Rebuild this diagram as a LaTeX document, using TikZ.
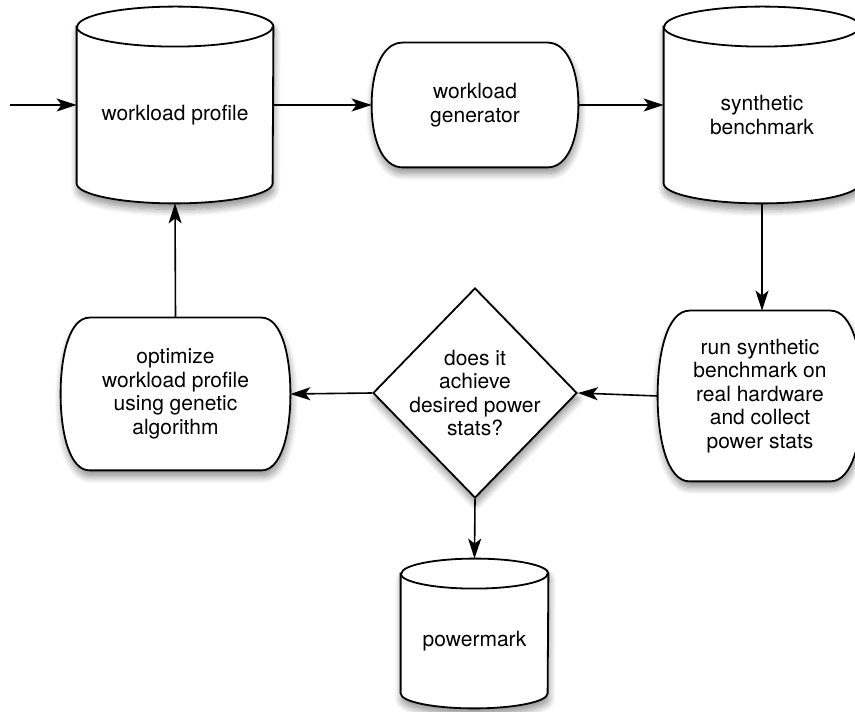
\documentclass[tikz,border=0pt]{standalone}
\usepackage{fontspec}
\setmainfont{TeX Gyre Heros}
\usetikzlibrary{shapes.geometric, arrows.meta, positioning, calc, shadows.blur, backgrounds}

\begin{document}
\begin{tikzpicture}[
    x=1pt, y=1pt,
    every node/.style={font=\fontsize{10.5pt}{11.8pt}\selectfont, align=center, inner sep=0pt},
    store/.style={rectangle, minimum width=98pt, minimum height=88pt},
    proc/.style={rectangle},
    shade/.style={blur shadow={shadow xshift=0.5pt, shadow yshift=-3pt, shadow blur radius=3.5pt, shadow blur steps=10, shadow opacity=45}},
    decision/.style={diamond, draw, fill=white, line width=0.9pt, minimum width=102pt, minimum height=105pt, shade},
    outline/.style={draw, fill=white, line width=0.9pt, shade},
    arrow/.style={-{Stealth[length=10pt, width=6.5pt, inset=2.5pt]}, line width=0.8pt}
]
    \useasboundingbox (0,0) rectangle (427.5,355.5);

    \node[store] (wp) at (87.5,298) {workload profile};
    \node[proc, minimum width=103pt, minimum height=62pt] (gen) at (237.5,303) {workload\\generator};
    \node[store] (sb) at (381,298) {synthetic\\benchmark};
    \node[proc, minimum width=102pt, minimum height=85pt] (run) at (380,157.5) {run synthetic\\benchmark on\\real hardware\\and collect\\power stats};
    \node[decision, label={center:does it\\achieve\\desired power\\stats?}] (dec) at (237.5,159) {};
    \node[proc, minimum width=114.5pt, minimum height=76pt] (opt) at (87.75,158.5) {optimize\\workload profile\\using genetic\\algorithm};
    \node[store, minimum width=73.5pt, minimum height=67pt] (pm) at (237.25,35) {powermark};
    \coordinate (in) at (5,303);

    % shapes behind the text
    \begin{scope}[on background layer]
        \foreach \n/\hw/\r in {wp/49pt/10pt, sb/49pt/10pt, pm/36.75pt/7.5pt} {
            \path[outline] (\n.north west) -- ([yshift=\r]\n.south west)
                arc[start angle=180, end angle=360, x radius=\hw, y radius=\r]
                -- (\n.north east) arc[start angle=0, end angle=180, x radius=\hw, y radius=\r] -- cycle;
            \draw[line width=0.9pt] (\n.north west) arc[start angle=180, end angle=360, x radius=\hw, y radius=\r];
        }
        \foreach \n/\b in {gen/15.5pt, run/16pt, opt/14.5pt} {
            \path[outline] ([xshift=\b]\n.north west) -- ([xshift=-\b]\n.north east)
                .. controls ([xshift=-0.3*\b]\n.north east) and ($(\n.north east)!0.25!(\n.south east)$) .. (\n.east)
                .. controls ($(\n.north east)!0.75!(\n.south east)$) and ([xshift=-0.3*\b]\n.south east) .. ([xshift=-\b]\n.south east)
                -- ([xshift=\b]\n.south west)
                .. controls ([xshift=0.3*\b]\n.south west) and ($(\n.north west)!0.75!(\n.south west)$) .. (\n.west)
                .. controls ($(\n.north west)!0.25!(\n.south west)$) and ([xshift=0.3*\b]\n.north west) .. cycle;
        }
    \end{scope}

    \draw[arrow] (in) -- (in -| wp.west);
    \draw[arrow] (gen.west -| wp.east) -- (gen.west);
    \draw[arrow] (gen.east) -- (gen.east -| sb.west);
    \draw[arrow] (sb.south) -- (sb.south |- run.north);
    \draw[arrow] (run.west) -- (dec.east);
    \draw[arrow] (dec.west) -- (opt.east);
    \draw[arrow] (dec.south) -- ([yshift=7.5pt]pm.north);
    \draw[arrow] (opt.north) -- (wp.south);
\end{tikzpicture}
\end{document}
